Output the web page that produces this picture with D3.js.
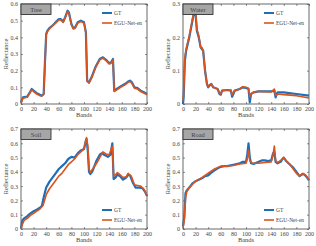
<!DOCTYPE html>
<html>
<head>
<meta charset="utf-8">
<script src="https://cdn.jsdelivr.net/npm/d3@7"></script>
<style>
  body { margin: 0; background: #fff; }
  svg text { font-family: "Liberation Serif", "DejaVu Serif", serif; fill: #444; }
</style>
</head>
<body>
<div id="chart"></div>
<script>
// [band, reflectance] pairs
const treeGT = [[0,0.01],[3,0.04],[10,0.045],[14,0.07],[17,0.09],[20,0.08],[25,0.065],[30,0.055],[33,0.05],[36,0.06],[38,0.25],[40,0.42],[42,0.44],[45,0.455],[50,0.47],[55,0.49],[60,0.51],[63,0.51],[67,0.495],[70,0.52],[74,0.56],[76,0.55],[80,0.48],[83,0.455],[86,0.46],[90,0.49],[95,0.5],[100,0.49],[103,0.43],[105,0.14],[108,0.13],[112,0.16],[118,0.22],[125,0.27],[130,0.28],[135,0.265],[140,0.245],[143,0.25],[146,0.27],[148,0.08],[152,0.09],[160,0.11],[165,0.12],[170,0.135],[173,0.14],[176,0.13],[180,0.1],[185,0.095],[190,0.08],[195,0.07],[200,0.06]];
const treeEGU = [[0,0.005],[3,0.035],[10,0.04],[14,0.065],[17,0.085],[20,0.075],[25,0.06],[30,0.05],[33,0.048],[36,0.058],[38,0.24],[40,0.415],[42,0.435],[45,0.45],[50,0.47],[55,0.485],[60,0.505],[63,0.505],[67,0.49],[70,0.515],[74,0.555],[76,0.545],[80,0.475],[83,0.45],[86,0.455],[90,0.485],[95,0.495],[100,0.485],[103,0.425],[105,0.135],[108,0.125],[112,0.155],[118,0.215],[125,0.265],[130,0.275],[135,0.26],[140,0.24],[143,0.245],[146,0.265],[148,0.075],[152,0.085],[160,0.105],[165,0.115],[170,0.13],[173,0.135],[176,0.125],[180,0.095],[185,0.09],[190,0.075],[195,0.065],[200,0.055]];

const waterGT = [[0,0.0],[1,0.02],[3,0.13],[5,0.16],[10,0.2],[15,0.25],[18,0.28],[20,0.27],[22,0.22],[25,0.2],[28,0.17],[30,0.165],[32,0.16],[35,0.1],[38,0.06],[40,0.05],[42,0.055],[45,0.06],[48,0.05],[55,0.045],[58,0.03],[60,0.028],[62,0.04],[70,0.042],[76,0.04],[78,0.022],[80,0.03],[82,0.04],[90,0.045],[95,0.05],[100,0.048],[104,0.045],[106,0.005],[108,0.03],[112,0.035],[120,0.038],[140,0.038],[145,0.04],[147,0.02],[150,0.035],[160,0.035],[180,0.03],[200,0.025]];
const waterEGU = [[0,0.01],[1,0.03],[3,0.14],[5,0.165],[10,0.205],[15,0.255],[18,0.285],[20,0.275],[22,0.225],[25,0.205],[28,0.17],[30,0.17],[32,0.16],[35,0.1],[38,0.06],[40,0.052],[42,0.058],[45,0.06],[48,0.05],[55,0.045],[58,0.033],[60,0.03],[62,0.04],[70,0.042],[76,0.042],[78,0.027],[80,0.035],[82,0.04],[90,0.045],[95,0.052],[100,0.05],[104,0.047],[106,0.022],[108,0.03],[112,0.035],[120,0.038],[140,0.036],[145,0.045],[147,0.025],[150,0.03],[160,0.028],[180,0.025],[200,0.018]];

const soilGT = [[0,0.0],[2,0.06],[5,0.075],[10,0.09],[15,0.11],[20,0.125],[25,0.135],[30,0.15],[33,0.16],[36,0.22],[40,0.29],[45,0.33],[50,0.36],[55,0.39],[60,0.42],[65,0.44],[70,0.46],[75,0.49],[80,0.505],[85,0.5],[90,0.53],[95,0.55],[100,0.56],[103,0.62],[104,0.63],[106,0.55],[108,0.4],[110,0.385],[113,0.4],[120,0.48],[125,0.52],[128,0.53],[132,0.52],[138,0.505],[142,0.52],[145,0.6],[147,0.35],[150,0.36],[153,0.38],[157,0.37],[162,0.345],[167,0.36],[170,0.38],[173,0.375],[178,0.32],[182,0.29],[188,0.29],[193,0.285],[197,0.26],[200,0.23]];
const soilEGU = [[0,0.0],[2,0.03],[5,0.06],[10,0.075],[15,0.095],[20,0.11],[25,0.125],[30,0.14],[35,0.165],[40,0.24],[45,0.28],[50,0.31],[55,0.34],[60,0.37],[65,0.39],[70,0.42],[75,0.45],[80,0.47],[85,0.49],[90,0.52],[95,0.54],[100,0.56],[104,0.64],[106,0.58],[108,0.42],[110,0.395],[120,0.46],[125,0.5],[130,0.54],[135,0.525],[140,0.52],[145,0.58],[147,0.37],[150,0.38],[153,0.395],[157,0.38],[162,0.36],[167,0.365],[170,0.39],[175,0.37],[180,0.31],[185,0.305],[190,0.3],[195,0.28],[200,0.235]];

const roadGT = [[0,0.02],[2,0.08],[4,0.25],[6,0.27],[10,0.29],[15,0.32],[20,0.335],[25,0.345],[30,0.355],[35,0.37],[40,0.375],[45,0.395],[50,0.41],[55,0.425],[60,0.435],[65,0.44],[70,0.44],[80,0.45],[90,0.46],[95,0.47],[100,0.47],[102,0.52],[104,0.6],[106,0.5],[108,0.46],[112,0.455],[120,0.47],[125,0.48],[130,0.48],[135,0.475],[140,0.48],[143,0.53],[145,0.54],[147,0.47],[150,0.46],[155,0.47],[158,0.49],[160,0.5],[163,0.48],[170,0.45],[175,0.43],[180,0.4],[185,0.37],[190,0.385],[193,0.38],[197,0.36],[200,0.34]];
const roadEGU = [[0,0.01],[2,0.06],[4,0.22],[6,0.26],[10,0.29],[20,0.335],[30,0.36],[40,0.39],[50,0.42],[60,0.44],[70,0.44],[80,0.445],[90,0.455],[100,0.46],[102,0.49],[104,0.55],[106,0.48],[110,0.46],[120,0.46],[130,0.465],[140,0.47],[143,0.52],[145,0.58],[147,0.48],[150,0.465],[155,0.48],[160,0.5],[165,0.47],[170,0.45],[180,0.39],[185,0.37],[190,0.39],[195,0.375],[200,0.345]];

const xTicks = [0, 20, 40, 60, 80, 100, 120, 140, 160, 180, 200];
const seriesNames = ['GT', 'EGU-Net-en'];
const colors = ['#1f6fb8', '#d9541e'];

const panels = [
  { title: 'Tree',  gt: treeGT,  egu: treeEGU,  yMax: 0.6, legend: 'top',    left: 21,  top: 4 },
  { title: 'Water', gt: waterGT, egu: waterEGU, yMax: 0.3, legend: 'top',    left: 183, top: 4 },
  { title: 'Soil',  gt: soilGT,  egu: soilEGU,  yMax: 0.7, legend: 'bottom', left: 21,  top: 129 },
  { title: 'Road',  gt: roadGT,  egu: roadEGU,  yMax: 0.7, legend: 'bottom', left: 183, top: 129 }
];

const W = 316, H = 246;
const pw = 126, ph = 100;

const svg = d3.select('#chart').append('svg')
  .attr('width', W).attr('height', H);

panels.forEach(p => {
  const g = svg.append('g').attr('transform', 'translate(' + p.left + ',' + p.top + ')');

  const x = d3.scaleLinear().domain([0, 200]).range([0, pw]);
  const y = d3.scaleLinear().domain([0, p.yMax]).range([ph, 0]);
  const yTicks = d3.range(0, p.yMax + 0.001, 0.1);

  // box + inward ticks
  g.append('rect').attr('width', pw).attr('height', ph)
    .attr('fill', 'none').attr('stroke', '#444').attr('stroke-width', 0.8);

  g.append('g').attr('transform', 'translate(0,' + ph + ')')
    .call(d3.axisBottom(x).tickValues(xTicks).tickSize(-2).tickPadding(3).tickFormat(d3.format('d')));
  g.append('g')
    .call(d3.axisLeft(y).tickValues(yTicks).tickSize(-2).tickPadding(3)
      .tickFormat(d => d === 0 ? '0' : d3.format('.1f')(d)));
  g.append('g').call(d3.axisTop(x).tickValues(xTicks).tickSize(-2).tickFormat(''));
  g.append('g').attr('transform', 'translate(' + pw + ',0)')
    .call(d3.axisRight(y).tickValues(yTicks).tickSize(-2).tickFormat(''));

  g.selectAll('.domain').remove();
  g.selectAll('.tick line').attr('stroke', '#444').attr('stroke-width', 0.6);
  g.selectAll('.tick text').attr('font-size', 6).attr('fill', '#555')
    .style('font-family', '"Liberation Serif", serif');

  const line = d3.line().x(d => x(d[0])).y(d => y(d[1]));

  g.append('path').datum(p.gt).attr('d', line)
    .attr('fill', 'none').attr('stroke', colors[0]).attr('stroke-width', 2.2)
    .attr('stroke-linejoin', 'round');
  g.append('path').datum(p.egu).attr('d', line)
    .attr('fill', 'none').attr('stroke', colors[1]).attr('stroke-width', 1.6)
    .attr('stroke-linejoin', 'round');

  // title box
  g.append('rect').attr('x', 0).attr('y', 0).attr('width', 30).attr('height', 10.5)
    .attr('fill', '#a6a6a6').attr('stroke', '#333').attr('stroke-width', 0.9);
  g.append('text').attr('x', 15).attr('y', 7.5).attr('text-anchor', 'middle')
    .attr('font-size', 6.5).text(p.title);

  // legend
  const ly = p.legend === 'top' ? 9 : 81;
  seriesNames.forEach((name, i) => {
    const yy = ly + i * 10;
    g.append('line').attr('x1', pw - 45).attr('x2', pw - 35).attr('y1', yy).attr('y2', yy)
      .attr('stroke', colors[i]).attr('stroke-width', i === 0 ? 2 : 1.6);
    g.append('text').attr('x', pw - 33).attr('y', yy + 1.8)
      .attr('font-size', 5.5).text(name);
  });

  // axis labels
  g.append('text').attr('x', pw / 2).attr('y', ph + 13).attr('text-anchor', 'middle')
    .attr('font-size', 6.5).text('Bands');
  g.append('text').attr('transform', 'translate(-13,' + (ph / 2) + ') rotate(-90)')
    .attr('text-anchor', 'middle').attr('font-size', 6.5).text('Reflectance');
});
</script>
</body>
</html>
